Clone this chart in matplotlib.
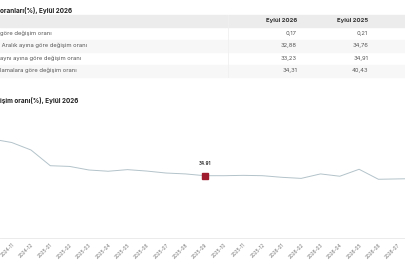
import matplotlib
matplotlib.use('Agg')
import matplotlib.pyplot as plt
from matplotlib.patches import Rectangle

plt.rcParams['font.family'] = ['Inter', 'DejaVu Sans']

# Table data
table_title = 'oranları(%), Eylül 2026'
col_headers = ['Eylül 2026', 'Eylül 2025']
row_labels = ['göre değişim oranı',
              ' Aralık ayına göre değişim oranı',
              'aynı ayına göre değişim oranı',
              'lamalara göre değişim oranı']
vals_2026 = ['0,17', '32,88', '33,23', '34,31']
vals_2025 = ['0,21', '34,76', '34,91', '40,43']

# Chart data
chart_title = 'işim oranı(%), Eylül 2026'
months = ['2024-10', '2024-11', '2024-12', '2025-01', '2025-02', '2025-03',
          '2025-04', '2025-05', '2025-06', '2025-07', '2025-08', '2025-09',
          '2025-10', '2025-11', '2025-12', '2026-01', '2026-02', '2026-03',
          '2026-04', '2026-05', '2026-06', '2026-07', '2026-08', '2026-09']
annual = [55.4, 53.5, 49.3, 40.5, 40.1, 38.1,
          37.4, 38.3, 37.5, 36.4, 35.9, 34.91,
          34.9, 35.1, 34.9, 34.0, 33.4, 35.9,
          34.6, 38.5, 32.9, 33.1, 33.3, 33.23]
highlight = '2025-09'
tick_months = months[1:22]

W, H = 405, 270
fig = plt.figure(figsize=(W / 100, H / 100), dpi=100)


def fx(px):
    return px / W


def fy(py):
    return 1 - py / H


# Table
fig.text(fx(0), fy(10), table_title, fontsize=4.6, fontweight='bold',
         color='#222222', va='center', ha='left')
fig.patches.append(Rectangle((fx(0), fy(27)), 1, fy(15) - fy(27),
                             transform=fig.transFigure, color='#ececec', zorder=0))
row_top = [27, 39.5, 52, 64.5]
row_h = 12.5
for i, top in enumerate(row_top):
    if i % 2 == 1:
        fig.patches.append(Rectangle((fx(0), fy(top + row_h)), 1, row_h / H,
                                     transform=fig.transFigure, color='#f7f7f7', zorder=0))
fig.add_artist(plt.Line2D([fx(228), fx(228)], [fy(15), fy(77)], transform=fig.transFigure,
                          color='#f0f0f0', lw=0.6))
fig.text(fx(297), fy(21), col_headers[0], fontsize=4.3, fontweight='bold',
         color='#333333', ha='right', va='center')
fig.text(fx(368), fy(21), col_headers[1], fontsize=4.3, fontweight='bold',
         color='#333333', ha='right', va='center')
for i, lab in enumerate(row_labels):
    yc = row_top[i] + row_h / 2
    fig.text(fx(0), fy(yc), lab, fontsize=4.2, color='#555555', ha='left', va='center')
    fig.text(fx(297), fy(yc), vals_2026[i], fontsize=4.2, color='#555555', ha='right', va='center')
    fig.text(fx(368), fy(yc), vals_2025[i], fontsize=4.2, color='#555555', ha='right', va='center')

# Chart
fig.text(fx(0), fy(101), chart_title, fontsize=4.6, fontweight='bold',
         color='#222222', va='center', ha='left')

step = 19.3
x0 = -7.6  # pixel position of first month
ax_top, ax_bot = 110, 238
px_per_unit = 1.785
ax = fig.add_axes([0, fy(ax_bot), 1, (ax_bot - ax_top) / H])
idx = list(range(len(months)))
ax.set_xlim(-x0 / step, (W - x0) / step)
ax.set_ylim(0, (ax_bot - ax_top) / px_per_unit)
ax.plot(idx, annual, color='#b3c3ca', lw=0.7, zorder=2)
hi = months.index(highlight)
ax.plot(hi, annual[hi], marker='s', ms=4.2, color='#9e1c2e', zorder=3)
ax.annotate(f'{annual[hi]:.2f}', (hi, annual[hi]), xytext=(0, 7), textcoords='offset points',
            ha='center', va='bottom', fontsize=3.3, fontweight='bold', color='#333333')

for s in ['top', 'left', 'right']:
    ax.spines[s].set_visible(False)
ax.spines['bottom'].set_color('#e8e8e8')
ax.spines['bottom'].set_linewidth(0.6)
ax.set_yticks([])
ax.set_xticks([months.index(m) for m in tick_months])
ax.set_xticklabels(tick_months, rotation=45, ha='right', va='top',
                   rotation_mode='anchor', fontsize=3.4, color='#777777')
ax.tick_params(axis='x', length=0, pad=3)
ax.patch.set_alpha(0)

fig.savefig('out.png', dpi=100)
